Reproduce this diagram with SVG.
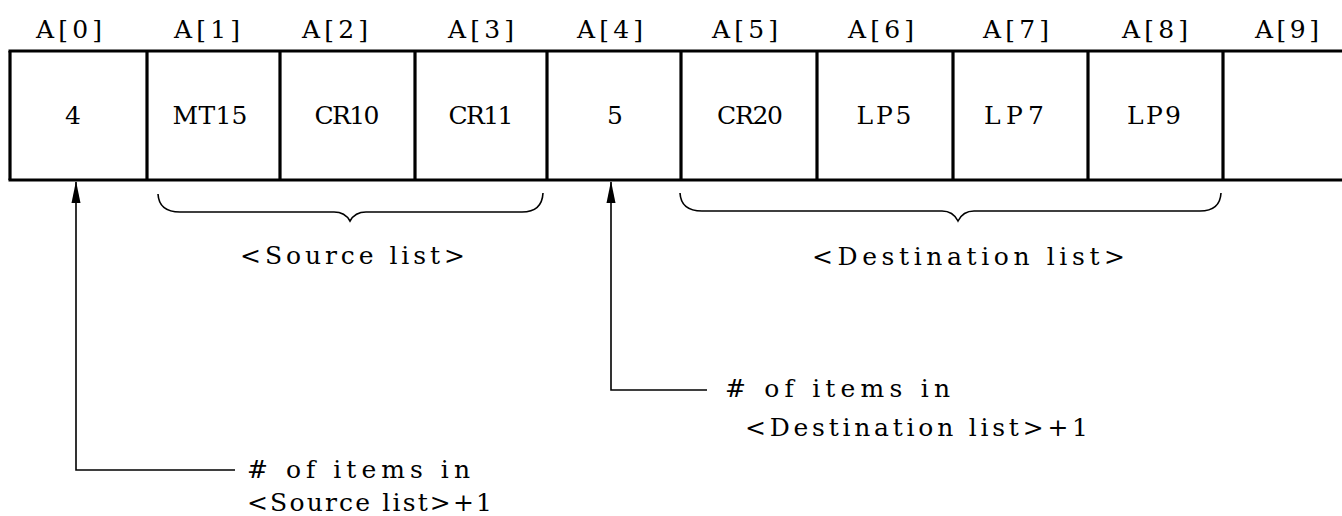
<svg xmlns="http://www.w3.org/2000/svg" width="1342" height="516" viewBox="0 0 1342 516">
<style>
text{font-family:"DejaVu Serif","Liberation Serif",serif;font-size:25px;fill:#000}
.c{text-anchor:middle}
.box{stroke:#000;stroke-width:3.2;fill:none}
.conn{stroke:#000;stroke-width:1.6;fill:none}
</style>
<defs>
<marker id="ah" markerWidth="22" markerHeight="10" refX="21" refY="5" orient="auto" markerUnits="userSpaceOnUse" viewBox="0 0 22 10">
<path d="M22,5 L0,0.5 L0,9.5 Z" fill="#000"/>
</marker>
</defs>
<rect width="1342" height="516" fill="#fff"/>
<g id="array">
<line class="box" x1="8.5" y1="51" x2="1342" y2="51"/>
<line class="box" x1="8.5" y1="180" x2="1342" y2="180"/>
<line class="box" x1="10" y1="51" x2="10" y2="180"/>
<line class="box" x1="147" y1="51" x2="147" y2="180"/>
<line class="box" x1="280" y1="51" x2="280" y2="180"/>
<line class="box" x1="415" y1="51" x2="415" y2="180"/>
<line class="box" x1="547" y1="51" x2="547" y2="180"/>
<line class="box" x1="681" y1="51" x2="681" y2="180"/>
<line class="box" x1="817" y1="51" x2="817" y2="180"/>
<line class="box" x1="953" y1="51" x2="953" y2="180"/>
<line class="box" x1="1088" y1="51" x2="1088" y2="180"/>
<line class="box" x1="1223" y1="51" x2="1223" y2="180"/>
</g>
<g id="index-labels">
<text class="c" x="69" y="38" textLength="66" lengthAdjust="spacing">A[0]</text>
<text class="c" x="207" y="38" textLength="66" lengthAdjust="spacing">A[1]</text>
<text class="c" x="335" y="38" textLength="66" lengthAdjust="spacing">A[2]</text>
<text class="c" x="481" y="38" textLength="66" lengthAdjust="spacing">A[3]</text>
<text class="c" x="610" y="38" textLength="66" lengthAdjust="spacing">A[4]</text>
<text class="c" x="745" y="38" textLength="66" lengthAdjust="spacing">A[5]</text>
<text class="c" x="881" y="38" textLength="66" lengthAdjust="spacing">A[6]</text>
<text class="c" x="1016" y="38" textLength="66" lengthAdjust="spacing">A[7]</text>
<text class="c" x="1155" y="38" textLength="66" lengthAdjust="spacing">A[8]</text>
<text class="c" x="1287" y="38" textLength="64" lengthAdjust="spacing">A[9]</text>
</g>
<g id="cell-0"><text class="c" x="73" y="124">4</text></g>
<g id="cell-1"><text class="c" x="210" y="124" textLength="75" lengthAdjust="spacing">MT15</text></g>
<g id="cell-2"><text class="c" x="347" y="124" textLength="65" lengthAdjust="spacing">CR10</text></g>
<g id="cell-3"><text class="c" x="481" y="124" textLength="65" lengthAdjust="spacing">CR11</text></g>
<g id="cell-4"><text class="c" x="615" y="124">5</text></g>
<g id="cell-5"><text class="c" x="750" y="124" textLength="66" lengthAdjust="spacing">CR20</text></g>
<g id="cell-6"><text class="c" x="884" y="124" textLength="55" lengthAdjust="spacing">LP5</text></g>
<g id="cell-7"><text class="c" x="1014" y="124" textLength="60" lengthAdjust="spacing">LP7</text></g>
<g id="cell-8"><text class="c" x="1154" y="124" textLength="54" lengthAdjust="spacing">LP9</text></g>
<g id="source-brace">
<path class="conn" d="M158,194 Q159,212 180,212 L334,212 Q345,212 350,221 Q355,212 366,212 L522,212 Q542,212 543,193"/>
<text x="240" y="264" textLength="225" lengthAdjust="spacing">&lt;Source list&gt;</text>
</g>
<g id="destination-brace">
<path class="conn" d="M680,193 Q681,211 702,211 L942,211 Q953,211 958,221 Q963,211 974,211 L1200,211 Q1220,211 1221,193"/>
<text x="812" y="265" textLength="313" lengthAdjust="spacing">&lt;Destination list&gt;</text>
</g>
<g id="connectors">
<path class="conn" d="M235,470 L76,470 L76,182" marker-end="url(#ah)"/>
<path class="conn" d="M707,390 L611,390 L611,182" marker-end="url(#ah)"/>
</g>
<g id="source-count-label">
<text x="247" y="478" textLength="223" lengthAdjust="spacing"># of items in</text>
<text x="247" y="511" textLength="245" lengthAdjust="spacing">&lt;Source list&gt;+1</text>
</g>
<g id="destination-count-label">
<text x="725" y="397" textLength="225" lengthAdjust="spacing"># of items in</text>
<text x="745" y="436" textLength="343" lengthAdjust="spacing">&lt;Destination list&gt;+1</text>
</g>
</svg>
